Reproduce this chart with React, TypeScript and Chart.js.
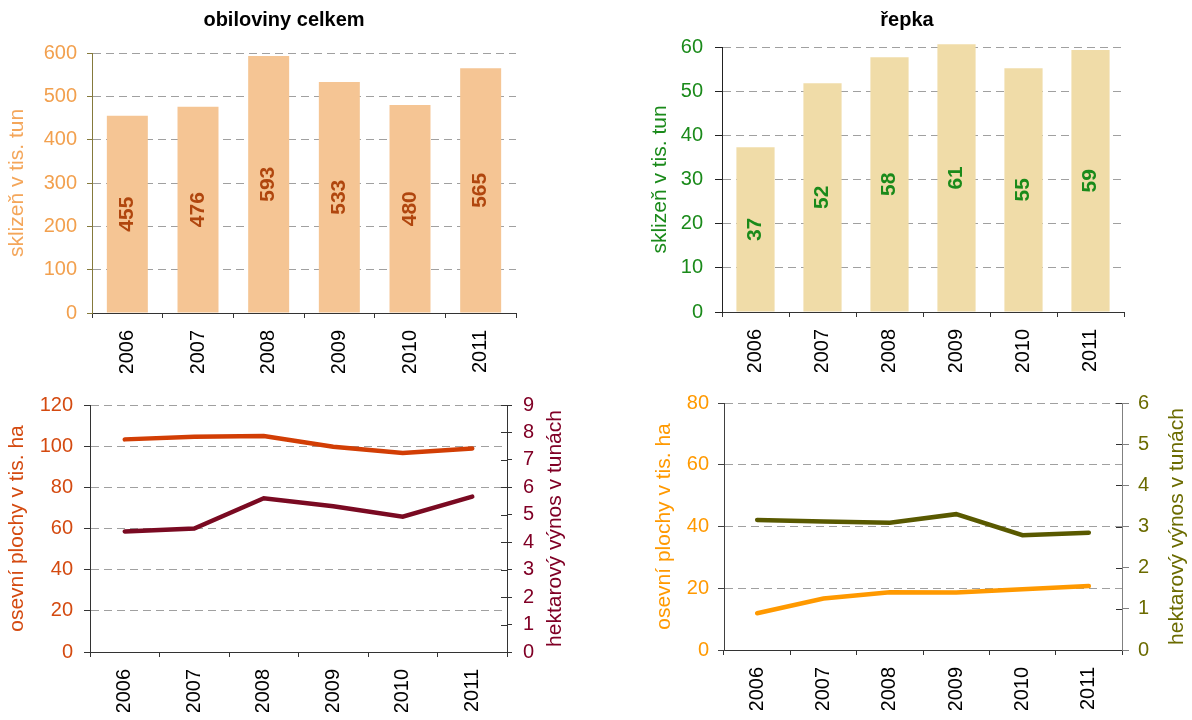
import React, { useEffect, useRef } from "react";
import { Chart, registerables } from "chart.js";

Chart.register(...registerables);

const FONT = '"Liberation Sans", Arial, Helvetica, sans-serif';

// ---- data ----
const years = ["2006", "2007", "2008", "2009", "2010", "2011"];
const cerealHarvest = [455, 476, 593, 533, 480, 565];
const rapeHarvest = [37.3, 51.8, 57.7, 60.6, 55.2, 59.3];
const cerealArea = [103.3, 104.6, 104.9, 99.7, 96.7, 98.9];
const cerealYield = [4.39, 4.5, 5.6, 5.31, 4.93, 5.66];
const rapeArea = [11.9, 16.7, 18.7, 18.6, 19.7, 20.7];
const rapeYield = [3.16, 3.12, 3.09, 3.3, 2.79, 2.85];

const titleCereal = "obiloviny celkem";
const titleRape = "řepka";
const harvestLabel = "sklizeň v tis. tun";
const areaLabel = "osevní plochy v tis. ha";
const yieldLabel = "hektarový výnos v tunách";

type Box = { x: number; y: number; w: number; h: number };
type Area = { left: number; right: number; top: number; bottom: number };

function pads(box: Box, area: Area, leftW: number, rightW: number, xH: number) {
  return {
    left: area.left - box.x - leftW,
    right: box.x + box.w - area.right - rightW,
    top: area.top - box.y,
    bottom: box.y + box.h - area.bottom - xH,
  };
}

type TextOpts = {
  title?: string;
  tx?: number;
  ty?: number;
  labelColor?: string;
  rightTitle?: string;
  rightTitleX?: number;
  rightTitleColor?: string;
  rightTickColor?: string;
};

function textPlugin(box: Box, o: TextOpts) {
  return {
    id: "texts",
    afterDraw(chart: any) {
      const ctx = chart.ctx;
      if (o.labelColor) {
        const meta = chart.getDatasetMeta(0);
        meta.data.forEach((bar: any, i: number) => {
          const p = bar.getProps(["x", "y", "base"], true);
          const v = chart.data.datasets[0].data[i] as number;
          ctx.save();
          ctx.translate(p.x, (p.y + p.base) / 2);
          ctx.rotate(-Math.PI / 2);
          ctx.font = `bold 21px ${FONT}`;
          ctx.fillStyle = o.labelColor;
          ctx.textAlign = "center";
          ctx.textBaseline = "middle";
          ctx.fillText(String(Math.round(v)), 0, 0);
          ctx.restore();
        });
      }
      if (o.title) {
        ctx.save();
        ctx.font = `bold 20px ${FONT}`;
        ctx.fillStyle = "#000";
        ctx.textAlign = "center";
        ctx.textBaseline = "middle";
        ctx.fillText(o.title, (o.tx as number) - box.x, (o.ty as number) - box.y);
        ctx.restore();
      }
      if (o.rightTitle) {
        const ca = chart.chartArea;
        ctx.save();
        ctx.translate((o.rightTitleX as number) - box.x, (ca.top + ca.bottom) / 2);
        ctx.rotate(-Math.PI / 2);
        ctx.font = `21px ${FONT}`;
        ctx.fillStyle = o.rightTitleColor;
        ctx.textAlign = "center";
        ctx.textBaseline = "middle";
        ctx.fillText(o.rightTitle, 0, 0);
        ctx.restore();
        // inner half of the crossing tick marks on the right axis
        const s = chart.scales.y1;
        ctx.save();
        ctx.strokeStyle = o.rightTickColor;
        ctx.lineWidth = 1;
        s.ticks.forEach((t: any) => {
          const y = Math.round(s.getPixelForValue(t.value)) + 0.5;
          ctx.beginPath();
          ctx.moveTo(s.left - 6, y);
          ctx.lineTo(s.left, y);
          ctx.stroke();
        });
        ctx.restore();
      }
    },
  };
}

function xAxis(xH: number) {
  return {
    type: "category",
    offset: true,
    ticks: {
      color: "#000",
      font: { size: 20, family: FONT },
      minRotation: 90,
      maxRotation: 90,
      padding: 12,
      autoSkip: false,
    },
    grid: { drawOnChartArea: false, offset: true, tickLength: 5, tickColor: "#333", tickWidth: 1 },
    border: { color: "#333", width: 1 },
    afterFit: (s: any) => {
      s.height = xH;
    },
  };
}

function yAxis(opts: {
  position: "left" | "right";
  max: number;
  step: number;
  tickColor: string;
  titleColor: string;
  title: string | null;
  axisColor: string;
  width: number;
  tl: number;
  pad: number;
  grid: boolean;
}) {
  return {
    position: opts.position,
    min: 0,
    max: opts.max,
    ticks: {
      stepSize: opts.step,
      color: opts.tickColor,
      font: { size: 20, family: FONT },
      padding: opts.pad,
    },
    grid: {
      drawOnChartArea: opts.grid,
      color: "#a0a0a0",
      lineWidth: 1,
      tickLength: opts.tl,
      tickColor: opts.axisColor,
      tickWidth: 1,
    },
    border: { color: opts.axisColor, width: 1, dash: [8, 5] },
    title: {
      display: !!opts.title,
      text: opts.title || "",
      color: opts.titleColor,
      font: { size: 21, family: FONT },
      padding: 0,
    },
    afterFit: (s: any) => {
      s.width = opts.width;
    },
  };
}

function useChart(ref: React.RefObject<HTMLCanvasElement | null>, make: () => any) {
  useEffect(() => {
    if (!ref.current) return;
    const chart = new Chart(ref.current, make());
    return () => chart.destroy();
  }, []);
}

const boxTL: Box = { x: 0, y: 0, w: 600, h: 382 };
const boxTR: Box = { x: 600, y: 0, w: 592, h: 382 };
const boxBL: Box = { x: 0, y: 382, w: 600, h: 338 };
const boxBR: Box = { x: 600, y: 382, w: 592, h: 338 };

export default function App() {
  const r1 = useRef<HTMLCanvasElement>(null);
  const r2 = useRef<HTMLCanvasElement>(null);
  const r3 = useRef<HTMLCanvasElement>(null);
  const r4 = useRef<HTMLCanvasElement>(null);

  useChart(r1, () => {
    const area = { left: 92, right: 516, top: 53, bottom: 313 };
    return {
      type: "bar",
      data: {
        labels: years,
        datasets: [
          {
            data: cerealHarvest,
            backgroundColor: "#F5C594",
            categoryPercentage: 1,
            barPercentage: 0.58,
          },
        ],
      },
      options: {
        responsive: false,
        animation: false,
        layout: { padding: pads(boxTL, area, 87, 0, 60) },
        plugins: { legend: { display: false }, tooltip: { enabled: false } },
        scales: {
          x: xAxis(60),
          y: yAxis({
            position: "left",
            max: 600,
            step: 100,
            tickColor: "#F2A04E",
            titleColor: "#F4A65A",
            title: harvestLabel,
            axisColor: "#857A3C",
            width: 87,
            tl: 5,
            pad: 10,
            grid: true,
          }),
        },
      },
      plugins: [textPlugin(boxTL, { title: titleCereal, tx: 284, ty: 20, labelColor: "#B0460E" })],
    };
  });

  useChart(r2, () => {
    const area = { left: 722, right: 1124, top: 47, bottom: 312 };
    return {
      type: "bar",
      data: {
        labels: years,
        datasets: [
          {
            data: rapeHarvest,
            backgroundColor: "#F0DCA8",
            categoryPercentage: 1,
            barPercentage: 0.57,
            clip: false,
          },
        ],
      },
      options: {
        responsive: false,
        animation: false,
        layout: { padding: pads(boxTR, area, 74, 0, 60) },
        plugins: { legend: { display: false }, tooltip: { enabled: false } },
        scales: {
          x: xAxis(60),
          y: yAxis({
            position: "left",
            max: 60,
            step: 10,
            tickColor: "#1A8A1A",
            titleColor: "#1A8A1A",
            title: harvestLabel,
            axisColor: "#222",
            width: 74,
            tl: 7,
            pad: 12,
            grid: true,
          }),
        },
      },
      plugins: [textPlugin(boxTR, { title: titleRape, tx: 907, ty: 20, labelColor: "#1A8A1A" })],
    };
  });

  useChart(r3, () => {
    const area = { left: 90, right: 507, top: 396, bottom: 652 };
    return {
      type: "line",
      data: {
        labels: years,
        datasets: [
          {
            data: cerealArea,
            yAxisID: "y",
            borderColor: "#D23E05",
            borderWidth: 4.5,
            pointRadius: 0,
            tension: 0,
            borderCapStyle: "round",
          },
          {
            data: cerealYield,
            yAxisID: "y1",
            borderColor: "#7A0A22",
            borderWidth: 4.5,
            pointRadius: 0,
            tension: 0,
            borderCapStyle: "round",
          },
        ],
      },
      options: {
        responsive: false,
        animation: false,
        layout: { padding: pads(boxBL, area, 85, 60, 60) },
        plugins: { legend: { display: false }, tooltip: { enabled: false } },
        scales: {
          x: xAxis(60),
          y: yAxis({
            position: "left",
            max: 120,
            step: 20,
            tickColor: "#D44A10",
            titleColor: "#D44A10",
            title: areaLabel,
            axisColor: "#333",
            width: 85,
            tl: 6,
            pad: 11,
            grid: true,
          }),
          y1: yAxis({
            position: "right",
            max: 9,
            step: 1,
            tickColor: "#800026",
            titleColor: "#800026",
            title: null,
            axisColor: "#333",
            width: 60,
            tl: 5,
            pad: 11,
            grid: false,
          }),
        },
      },
      plugins: [
        textPlugin(boxBL, {
          rightTitle: yieldLabel,
          rightTitleX: 555,
          rightTitleColor: "#800026",
          rightTickColor: "#333",
        }),
      ],
    };
  });

  useChart(r4, () => {
    const area = { left: 724, right: 1122, top: 396, bottom: 650 };
    return {
      type: "line",
      data: {
        labels: years,
        datasets: [
          {
            data: rapeArea,
            yAxisID: "y",
            borderColor: "#FF9900",
            borderWidth: 4.5,
            pointRadius: 0,
            tension: 0,
            borderCapStyle: "round",
          },
          {
            data: rapeYield,
            yAxisID: "y1",
            borderColor: "#595900",
            borderWidth: 4.5,
            pointRadius: 0,
            tension: 0,
            borderCapStyle: "round",
          },
        ],
      },
      options: {
        responsive: false,
        animation: false,
        layout: { padding: pads(boxBR, area, 72, 67, 60) },
        plugins: { legend: { display: false }, tooltip: { enabled: false } },
        scales: {
          x: xAxis(60),
          y: yAxis({
            position: "left",
            max: 80,
            step: 20,
            tickColor: "#FF9900",
            titleColor: "#FF9900",
            title: areaLabel,
            axisColor: "#404040",
            width: 72,
            tl: 6,
            pad: 9,
            grid: true,
          }),
          y1: yAxis({
            position: "right",
            max: 6,
            step: 1,
            tickColor: "#6B6B00",
            titleColor: "#6B6B00",
            title: null,
            axisColor: "#808080",
            width: 67,
            tl: 7,
            pad: 9,
            grid: false,
          }),
        },
      },
      plugins: [
        textPlugin(boxBR, {
          rightTitle: yieldLabel,
          rightTitleX: 1177,
          rightTitleColor: "#6B6B00",
          rightTickColor: "#333",
        }),
      ],
    };
  });

  const cs = (b: Box): React.CSSProperties => ({
    position: "absolute",
    left: b.x,
    top: b.y,
    width: b.w,
    height: b.h,
    display: "block",
  });

  return (
    <div style={{ position: "absolute", left: 0, top: 0, width: 1192, height: 720, background: "#fff" }}>
      <canvas ref={r1} width={boxTL.w} height={boxTL.h} style={cs(boxTL)} />
      <canvas ref={r2} width={boxTR.w} height={boxTR.h} style={cs(boxTR)} />
      <canvas ref={r3} width={boxBL.w} height={boxBL.h} style={cs(boxBL)} />
      <canvas ref={r4} width={boxBR.w} height={boxBR.h} style={cs(boxBR)} />
    </div>
  );
}
